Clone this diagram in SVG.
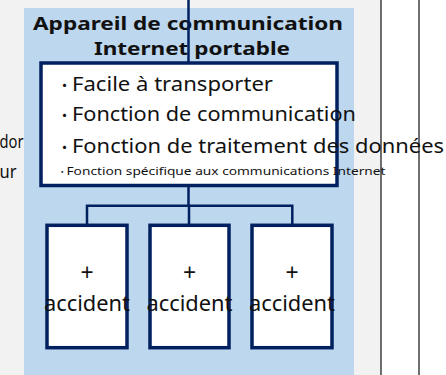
<svg xmlns="http://www.w3.org/2000/svg" width="446" height="375" viewBox="0 0 446 375">
<style>
.t{font-family:"Noto Sans","Noto Sans CJK JP",sans-serif;fill:#111}
.b{font-weight:bold}
.box{fill:#fff;stroke:#002060;stroke-width:3.5}
.con{stroke:#002060;stroke-width:2.5;fill:none}
.sep{stroke:#333;stroke-width:1.4}
</style>
<rect x="0" y="0" width="381" height="375" fill="#f2f2f2"/>
<rect x="381" y="0" width="65" height="375" fill="#fff"/>
<line class="sep" x1="381" y1="0" x2="381" y2="375"/>
<line class="sep" x1="419" y1="0" x2="419" y2="375"/>
<g id="bg-text">
<text class="t" x="-0.5" y="148.3" font-size="18" textLength="24" lengthAdjust="spacingAndGlyphs">dor</text>
<text class="t" x="-0.5" y="178" font-size="18" textLength="17" lengthAdjust="spacingAndGlyphs">ur</text>
</g>
<g id="panel">
<rect x="24" y="8" width="330" height="367" fill="#bdd7ee"/>
<text class="t b" y="29.5" font-size="18.5" text-anchor="middle"><tspan x="188" textLength="310" lengthAdjust="spacingAndGlyphs">Appareil de communication</tspan><tspan x="192" y="54.5" textLength="196" lengthAdjust="spacingAndGlyphs">Internet portable</tspan></text>
</g>
<g id="connectors">
<line class="con" x1="188.5" y1="0" x2="188.5" y2="63"/>
<path class="con" d="M188.5 185 V205.7 M87 225 V205.7 H292.3 V225 M189 205.7 V225"/>
</g>
<g id="main">
<rect class="box" x="41" y="63" width="296" height="122.5"/>
<text class="t" y="91" font-size="20"><tspan x="57" font-size="15">・</tspan><tspan x="72" textLength="201" lengthAdjust="spacingAndGlyphs">Facile à transporter</tspan></text>
<text class="t" y="121" font-size="20"><tspan x="57" font-size="15">・</tspan><tspan x="72" textLength="284" lengthAdjust="spacingAndGlyphs">Fonction de communication</tspan></text>
<text class="t" y="153" font-size="20"><tspan x="57" font-size="15">・</tspan><tspan x="72" textLength="372" lengthAdjust="spacingAndGlyphs">Fonction de traitement des données</tspan></text>
<text class="t" y="175" font-size="11.5"><tspan x="58" font-size="8.5">・</tspan><tspan x="66.5" textLength="319" lengthAdjust="spacingAndGlyphs">Fonction spécifique aux communications Internet</tspan></text>
</g>
<g id="child1">
<rect class="box" x="47" y="225.3" width="80" height="122.4"/>
<text class="t" text-anchor="middle"><tspan x="87" y="281" font-size="23">+</tspan><tspan x="87" y="311" font-size="21.5" textLength="86" lengthAdjust="spacingAndGlyphs">accident</tspan></text>
</g>
<g id="child2">
<rect class="box" x="150" y="225.3" width="79" height="122.4"/>
<text class="t" text-anchor="middle"><tspan x="189.5" y="281" font-size="23">+</tspan><tspan x="189.5" y="311" font-size="21.5" textLength="86" lengthAdjust="spacingAndGlyphs">accident</tspan></text>
</g>
<g id="child3">
<rect class="box" x="252" y="225.3" width="80" height="122.4"/>
<text class="t" text-anchor="middle"><tspan x="292" y="281" font-size="23">+</tspan><tspan x="292" y="311" font-size="21.5" textLength="86" lengthAdjust="spacingAndGlyphs">accident</tspan></text>
</g>
</svg>
